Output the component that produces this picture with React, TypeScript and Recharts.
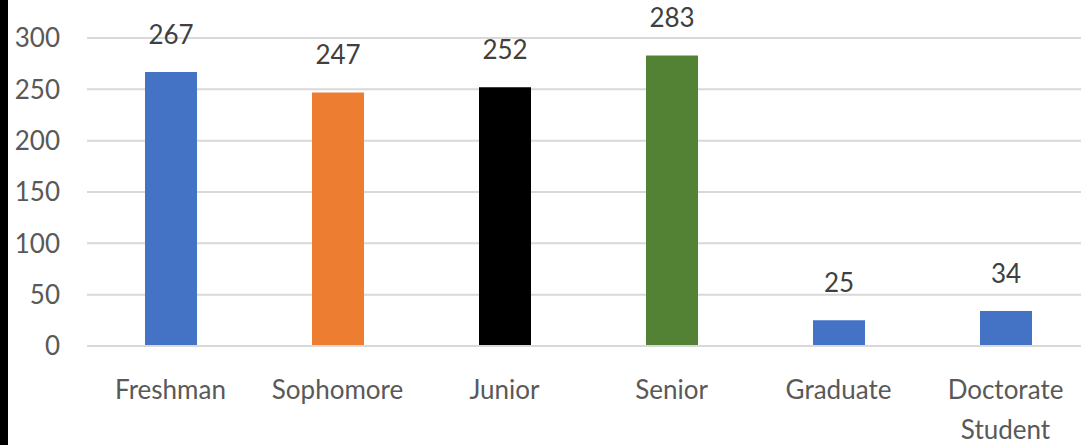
import { BarChart, Bar, XAxis, YAxis, CartesianGrid, Cell, LabelList } from "recharts";

const categories = ["Freshman", "Sophomore", "Junior", "Senior", "Graduate", "Doctorate Student"];
const counts = [267, 247, 252, 283, 25, 34];
const barColors = ["#4472C4", "#ED7D31", "#000000", "#548235", "#4472C4", "#4472C4"];
const yTicks = [0, 50, 100, 150, 200, 250, 300];

const FONT = "Lato, 'Open Sans', sans-serif";
const TEXT = "#595959";

const data = categories.map((name, i) => ({ name, count: counts[i], color: barColors[i] }));

function CategoryTick({ x, y, payload }: any) {
  const words = String(payload.value).split(" ");
  return (
    <text x={x} y={y} textAnchor="middle" fill={TEXT} fontSize={26} fontFamily={FONT}>
      {words.map((w, i) => (
        <tspan key={w} x={x} dy={i === 0 ? "0.85em" : 40}>
          {w}
        </tspan>
      ))}
    </text>
  );
}

export default function App() {
  return (
    <div style={{ position: "absolute", left: 0, top: 0, width: 1081, height: 445, overflow: "hidden", background: "#fff" }}>
      <div style={{ position: "absolute", left: 0, top: 0, width: 8, height: 445, background: "#000" }} />
      <BarChart
        width={1095}
        height={445}
        data={data}
        margin={{ top: 38, right: 6, left: 0, bottom: 39 }}
        barCategoryGap={0}
      >
        <CartesianGrid vertical={false} stroke="#d9d9d9" strokeWidth={2} />
        <XAxis
          dataKey="name"
          height={60}
          axisLine={{ stroke: "#d9d9d9", strokeWidth: 2 }}
          tickLine={false}
          tickSize={0}
          tickMargin={31}
          interval={0}
          tick={<CategoryTick />}
        />
        <YAxis
          width={87}
          domain={[0, 300]}
          ticks={yTicks}
          axisLine={false}
          tickLine={false}
          tickSize={0}
          tickMargin={27}
          tick={{ fill: TEXT, fontSize: 26, fontFamily: FONT }}
        />
        <Bar dataKey="count" barSize={52} isAnimationActive={false}>
          {data.map((d) => (
            <Cell key={d.name} fill={d.color} />
          ))}
          <LabelList dataKey="count" position="top" offset={28} fill="#404040" fontSize={26} fontFamily={FONT} />
        </Bar>
      </BarChart>
    </div>
  );
}
